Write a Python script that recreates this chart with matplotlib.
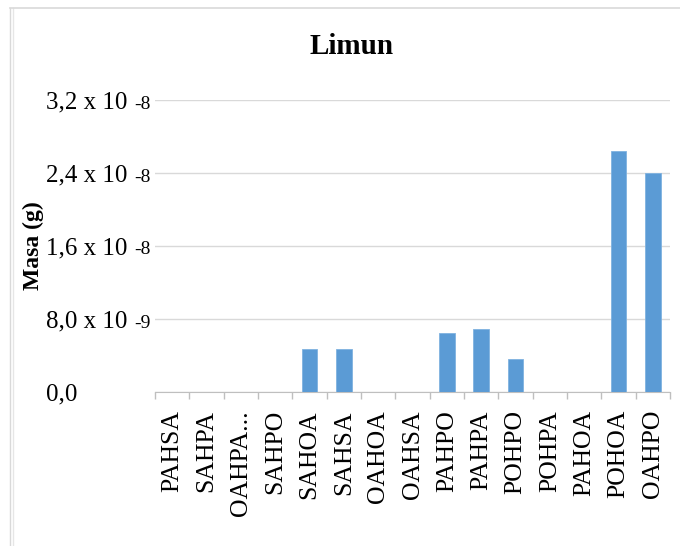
import matplotlib
matplotlib.use("Agg")
import matplotlib.pyplot as plt
import matplotlib.transforms as mtransforms
from matplotlib.ticker import FixedLocator
from matplotlib.lines import Line2D

categories = ["PAHSA", "SAHPA", "OAHPA...", "SAHPO", "SAHOA", "SAHSA", "OAHOA", "OAHSA",
              "PAHPO", "PAHPA", "POHPO", "POHPA", "PAHOA", "POHOA", "OAHPO"]
values = [0, 0, 0, 0, 4.7e-9, 4.7e-9, 0, 0, 6.5e-9, 6.9e-9, 3.6e-9, 0, 0, 2.64e-8, 2.40e-8]
yticks = [0, 8.0e-9, 1.6e-8, 2.4e-8, 3.2e-8]
ytick_labels = ["0,0", "8,0 x 10", "1,6 x 10", "2,4 x 10", "3,2 x 10"]
ytick_exponents = ["", "-9", "-8", "-8", "-8"]

serif = ["Liberation Serif", "DejaVu Serif"]
plt.rcParams['font.family'] = serif

W, H = 680, 546
fig = plt.figure(figsize=(6.8, 5.46), dpi=100)
ax = fig.add_axes([155/W, 1-392/H, (670-155)/W, (392-100)/H])

x = list(range(len(categories)))
ax.bar(x, values, width=0.45, color="#5B9BD5", edgecolor="#7FB2E0", linewidth=0.6, zorder=3)

ax.set_xlim(-0.5, len(categories)-0.5)
ax.set_ylim(0, 3.2e-8)
ax.set_yticks(yticks)
ax.set_yticklabels(ytick_labels, fontsize=18, ha="left")
ax.yaxis.grid(True, color="#D9D9D9", linewidth=1, zorder=0)
ax.tick_params(axis='y', length=0, pad=(155-46)*0.72)

# small exponents after the "x 10" part
trans = mtransforms.blended_transform_factory(fig.transFigure, ax.transData)
trans = trans + mtransforms.ScaledTranslation(0, -2/100, fig.dpi_scale_trans)
for yv, ex in zip(yticks, ytick_exponents):
    if ex:
        ax.text(134/W, yv, ex, transform=trans, fontsize=14, ha="left",
                va="center_baseline", clip_on=False)

ax.set_xticks(x)
ax.set_xticklabels(categories, rotation=90, fontsize=18.5)
ax.tick_params(axis='x', which='major', length=0, pad=13)
ax.xaxis.set_minor_locator(FixedLocator([i - 0.5 for i in range(len(categories)+1)]))
ax.tick_params(axis='x', which='minor', length=5, color="#BFBFBF", width=1)

for s in ["top", "right", "left"]:
    ax.spines[s].set_visible(False)
ax.spines["bottom"].set_color("#BFBFBF")

ax.set_ylabel("Masa (g)", fontsize=17, fontweight="bold")
ax.yaxis.set_label_coords((44-155)/(670-155), 0.5)
fig.text(352/W, 1-47/H, "Limun", ha="center", va="center", fontsize=21, fontweight="bold")

# chart border
fig.add_artist(Line2D([10/W, 10/W], [0, 1-8/H], color="#D9D9D9", lw=1))
fig.add_artist(Line2D([13/W, 13/W], [0, 1-8/H], color="#E6E6E6", lw=1))
fig.add_artist(Line2D([10/W, 1], [1-8/H, 1-8/H], color="#D9D9D9", lw=1.2))

fig.savefig("out.png", dpi=100)
